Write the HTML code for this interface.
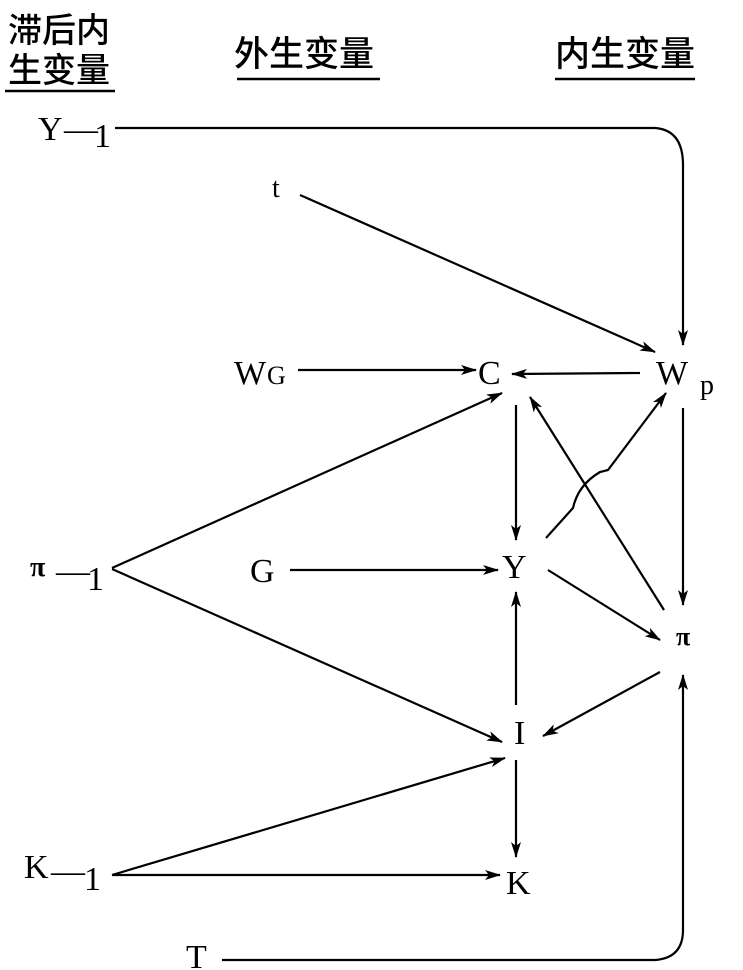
<!DOCTYPE html>
<html><head><meta charset="utf-8"><style>
html,body{margin:0;padding:0;background:#fff;}
svg{display:block;}
text{font-family:"Liberation Serif","Noto Serif CJK SC",serif;fill:#000;}
.cjk{font-family:"Noto Sans CJK SC","WenQuanYi Zen Hei",sans-serif;font-weight:500;}
</style></head><body>
<svg width="743" height="970" viewBox="0 0 743 970" xmlns="http://www.w3.org/2000/svg">
<defs>
<marker id="b" markerWidth="16" markerHeight="10" refX="15" refY="5" orient="auto" markerUnits="userSpaceOnUse">
<path d="M0,0 L16,5 L0,10 L4,5 Z" fill="#000"/></marker></defs>
<text x="8" y="42" font-size="34" class="cjk">滞后内</text>
<text x="8" y="82" font-size="34" class="cjk">生变量</text>
<text x="234" y="66" font-size="35" class="cjk">外生变量</text>
<text x="555" y="66" font-size="35" class="cjk">内生变量</text>
<g stroke="#000" stroke-width="2.5" fill="none">
<line x1="5" y1="91" x2="115" y2="91"/>
<line x1="237" y1="79" x2="380" y2="79"/>
<line x1="555" y1="79" x2="695" y2="79"/>
</g>
<g font-size="34">
<text x="38" y="140">Y</text><text x="64" y="140">—</text><text x="94" y="147">1</text>
<text x="272" y="197" font-size="28">t</text>
<text x="234" y="384">W</text><text x="267" y="384" font-size="26">G</text>
<text x="478" y="384">C</text>
<text x="656" y="384">W</text><text x="700" y="394" font-size="28">p</text>
<text x="30" y="576" font-size="28" font-weight="bold">π</text><text x="56" y="582">—</text><text x="87" y="590">1</text>
<text x="250" y="582">G</text>
<text x="502" y="578">Y</text>
<text x="676" y="645" font-size="26" font-weight="bold">π</text>
<text x="514" y="744">I</text>
<text x="506" y="894">K</text>
<text x="24" y="878">K</text><text x="51" y="882">—</text><text x="84" y="890">1</text>
<text x="186" y="968">T</text>
</g>
<g stroke="#000" stroke-width="2.2" fill="none">
<path d="M115,128 L655,128 Q683,130 683,165 L683,345" marker-end="url(#b)"/>
<line x1="300" y1="195" x2="655" y2="352" marker-end="url(#b)"/>
<line x1="298" y1="370" x2="476" y2="370" marker-end="url(#b)"/>
<line x1="640" y1="373" x2="512" y2="374" marker-end="url(#b)"/>
<line x1="683" y1="408" x2="683" y2="605" marker-end="url(#b)"/>
<line x1="112" y1="568" x2="502" y2="393" marker-end="url(#b)"/>
<line x1="112" y1="569" x2="502" y2="742" marker-end="url(#b)"/>
<line x1="290" y1="570" x2="498" y2="570" marker-end="url(#b)"/>
<line x1="516" y1="405" x2="516" y2="540" marker-end="url(#b)"/>
<path d="M546,538 L573,508 Q578,485 600,472 L608,470 L666,393" marker-end="url(#b)"/>
<line x1="664" y1="610" x2="530" y2="397" marker-end="url(#b)"/>
<line x1="548" y1="570" x2="660" y2="640" marker-end="url(#b)"/>
<line x1="660" y1="672" x2="543" y2="736" marker-end="url(#b)"/>
<line x1="516" y1="705" x2="516" y2="592" marker-end="url(#b)"/>
<line x1="516" y1="760" x2="516" y2="857" marker-end="url(#b)"/>
<line x1="112" y1="875" x2="505" y2="758" marker-end="url(#b)"/>
<line x1="112" y1="875" x2="500" y2="875" marker-end="url(#b)"/>
<path d="M222,960 L655,960 Q683,958 683,930 L683,675" marker-end="url(#b)"/>
</g>
</svg>
</body></html>
